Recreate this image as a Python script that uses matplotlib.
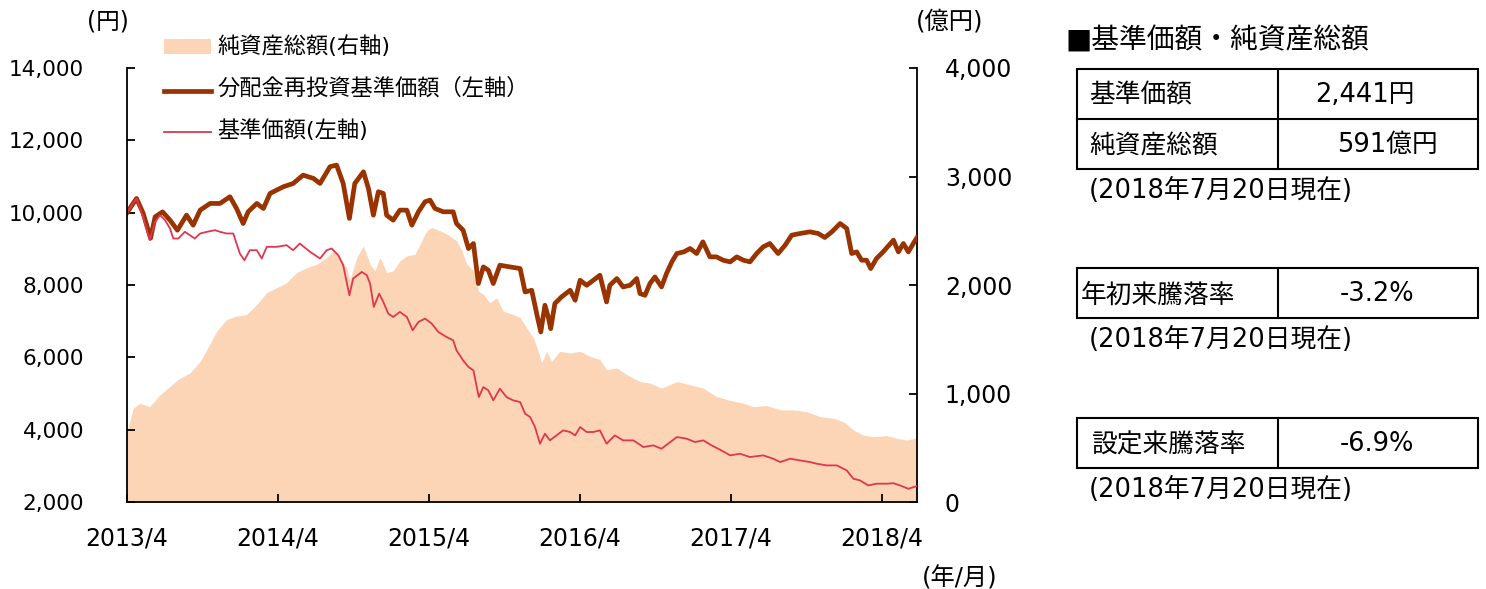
import matplotlib
matplotlib.use('Agg')
import matplotlib.pyplot as plt
import pandas as pd
from matplotlib.patches import Rectangle
from matplotlib.lines import Line2D
from matplotlib.ticker import FuncFormatter, FixedLocator

plt.rcParams['font.family'] = ['DejaVu Sans', 'Noto Sans CJK JP']

# ---------------- data ----------------
reinv_dates = [
    "2013-04-26", "2013-05-19", "2013-06-04", "2013-06-22", "2013-07-03", "2013-07-21", "2013-08-08",
    "2013-08-26", "2013-09-17", "2013-10-03", "2013-10-20", "2013-11-13", "2013-12-07", "2013-12-31",
    "2014-01-16", "2014-02-01", "2014-02-13", "2014-03-06", "2014-03-22", "2014-04-07", "2014-05-09",
    "2014-06-02", "2014-06-26", "2014-07-21", "2014-08-06", "2014-08-30", "2014-09-15", "2014-10-01",
    "2014-10-16", "2014-10-29", "2014-11-19", "2014-12-01", "2014-12-13", "2014-12-25", "2015-01-06",
    "2015-01-14", "2015-01-30", "2015-02-15", "2015-03-04", "2015-03-16", "2015-04-01", "2015-04-17",
    "2015-04-29", "2015-05-11", "2015-05-31", "2015-06-24", "2015-07-02", "2015-07-18", "2015-07-31",
    "2015-08-12", "2015-08-24", "2015-09-05", "2015-09-17", "2015-09-29", "2015-10-15", "2015-11-08",
    "2015-12-03", "2015-12-15", "2015-12-31", "2016-01-12", "2016-01-22", "2016-02-01", "2016-02-09",
    "2016-02-15", "2016-02-25", "2016-03-12", "2016-04-02", "2016-04-14", "2016-04-26", "2016-05-12",
    "2016-05-28", "2016-06-13", "2016-06-29", "2016-07-07", "2016-07-24", "2016-08-08", "2016-08-25",
    "2016-09-10", "2016-09-18", "2016-09-30", "2016-10-12", "2016-10-24", "2016-11-09", "2016-11-21",
    "2016-12-04", "2016-12-16", "2017-01-02", "2017-01-17", "2017-02-02", "2017-02-17", "2017-03-06",
    "2017-03-22", "2017-04-07", "2017-04-24", "2017-05-10", "2017-05-26", "2017-06-11", "2017-06-27",
    "2017-07-13", "2017-07-29", "2017-08-18", "2017-09-04", "2017-09-20", "2017-10-10", "2017-11-03",
    "2017-11-23", "2017-12-09", "2017-12-26", "2018-01-15", "2018-01-31", "2018-02-12", "2018-02-24",
    "2018-03-08", "2018-03-20", "2018-03-30", "2018-04-13", "2018-04-29", "2018-05-24", "2018-06-05",
    "2018-06-17", "2018-06-29", "2018-07-11", "2018-07-20"]
reinv_values = [
    10000, 10393, 9986, 9294, 9884, 10022, 9793,
    9516, 9931, 9654, 10070, 10255, 10255, 10440,
    10116, 9700, 10024, 10255, 10116, 10532, 10716,
    10808, 11038, 10947, 10808, 11270, 11315, 10808,
    9840, 10808, 11130, 10670, 9931, 10578, 10532,
    9931, 9793, 10070, 10070, 9654, 10024, 10301,
    10347, 10116, 10024, 10024, 9700, 9516, 9009,
    9147, 8040, 8501, 8410, 8040, 8547, 8501,
    8455, 7808, 7854, 7210, 6701, 7440, 7117,
    6793, 7487, 7670, 7855, 7578, 8131, 7993,
    8131, 8270, 7532, 7993, 8178, 7947, 7993,
    8178, 7762, 7716, 8040, 8224, 7947, 8317,
    8639, 8870, 8916, 9009, 8870, 9193, 8778,
    8778, 8686, 8639, 8778, 8686, 8640, 8870,
    9055, 9147, 8870, 9101, 9378, 9424, 9470,
    9424, 9313, 9470, 9700, 9562, 8870, 8916,
    8686, 8686, 8455, 8732, 8916, 9240, 8916,
    9147, 8916, 9147, 9310]

nav_dates = [
    "2013-04-26", "2013-05-19", "2013-06-04", "2013-06-20", "2013-07-03", "2013-07-15", "2013-07-27",
    "2013-08-08", "2013-08-16", "2013-08-28", "2013-09-13", "2013-09-25", "2013-10-07", "2013-10-20",
    "2013-11-05", "2013-11-25", "2013-12-07", "2013-12-23", "2014-01-08", "2014-01-16", "2014-01-24",
    "2014-02-04", "2014-02-17", "2014-03-06", "2014-03-18", "2014-03-30", "2014-04-23", "2014-05-17",
    "2014-06-02", "2014-06-18", "2014-07-13", "2014-08-06", "2014-08-22", "2014-09-03", "2014-09-19",
    "2014-10-01", "2014-10-16", "2014-10-25", "2014-11-15", "2014-11-27", "2014-12-05", "2014-12-14",
    "2014-12-27", "2015-01-06", "2015-01-18", "2015-01-30", "2015-02-15", "2015-03-04", "2015-03-18",
    "2015-04-01", "2015-04-17", "2015-05-03", "2015-05-19", "2015-06-08", "2015-06-24", "2015-07-02",
    "2015-07-18", "2015-07-31", "2015-08-12", "2015-08-25", "2015-09-05", "2015-09-17", "2015-09-29",
    "2015-10-15", "2015-10-31", "2015-11-16", "2015-12-03", "2015-12-15", "2015-12-27", "2016-01-08",
    "2016-01-20", "2016-02-01", "2016-02-13", "2016-02-29", "2016-03-16", "2016-04-02", "2016-04-14",
    "2016-04-26", "2016-05-12", "2016-05-28", "2016-06-13", "2016-06-29", "2016-07-19", "2016-08-08",
    "2016-09-02", "2016-09-26", "2016-10-20", "2016-11-09", "2016-11-25", "2016-12-16", "2017-01-09",
    "2017-01-29", "2017-02-18", "2017-03-10", "2017-03-30", "2017-04-24", "2017-05-18", "2017-06-11",
    "2017-07-13", "2017-08-06", "2017-08-23", "2017-09-16", "2017-10-10", "2017-11-03", "2017-11-19",
    "2017-12-14", "2018-01-07", "2018-01-31", "2018-02-16", "2018-03-04", "2018-03-24", "2018-04-13",
    "2018-05-08", "2018-05-24", "2018-06-09", "2018-06-29", "2018-07-20"]
nav_values = [
    10000, 10393, 9884, 9240, 9746, 9931, 9793,
    9562, 9285, 9285, 9470, 9378, 9285, 9424,
    9470, 9516, 9470, 9424, 9424, 9147, 8870,
    8686, 8962, 8962, 8732, 9055, 9055, 9101,
    8962, 9147, 8916, 8732, 8962, 9009, 8824,
    8547, 7717, 8178, 8362, 8270, 8040, 7394,
    7763, 7532, 7210, 7117, 7255, 7117, 6748,
    6979, 7071, 6933, 6701, 6563, 6471, 6194,
    5917, 5732, 5640, 4902, 5178, 5087, 4810,
    5134, 4902, 4810, 4764, 4442, 4349, 4072,
    3612, 3889, 3704, 3842, 3980, 3935, 3842,
    4072, 3935, 3935, 3980, 3612, 3842, 3704,
    3704, 3520, 3566, 3473, 3612, 3796, 3750,
    3658, 3704, 3566, 3450, 3290, 3335, 3243,
    3290, 3197, 3105, 3197, 3150, 3105, 3059,
    3012, 3012, 2874, 2644, 2598, 2458, 2506,
    2506, 2520, 2458, 2366, 2441]

aum_dates = [
    "2013-04-26", "2013-05-11", "2013-05-27", "2013-06-20", "2013-07-15", "2013-08-08", "2013-09-01",
    "2013-09-25", "2013-10-20", "2013-11-05", "2013-11-29", "2013-12-23", "2014-01-16", "2014-02-09",
    "2014-03-06", "2014-03-30", "2014-04-23", "2014-05-17", "2014-06-10", "2014-07-05", "2014-07-29",
    "2014-08-22", "2014-09-07", "2014-09-23", "2014-10-09", "2014-10-17", "2014-11-03", "2014-11-19",
    "2014-12-05", "2014-12-17", "2014-12-29", "2015-01-14", "2015-01-30", "2015-02-15", "2015-03-04",
    "2015-03-24", "2015-04-05", "2015-04-21", "2015-05-03", "2015-05-23", "2015-06-16", "2015-07-02",
    "2015-07-15", "2015-07-27", "2015-08-12", "2015-08-24", "2015-09-05", "2015-09-21", "2015-10-07",
    "2015-10-23", "2015-11-16", "2015-12-03", "2015-12-19", "2016-01-04", "2016-01-16", "2016-01-24",
    "2016-02-05", "2016-02-17", "2016-03-08", "2016-04-02", "2016-04-26", "2016-05-20", "2016-06-13",
    "2016-06-29", "2016-07-24", "2016-08-17", "2016-09-18", "2016-10-12", "2016-11-09", "2016-12-16",
    "2017-01-17", "2017-02-18", "2017-03-22", "2017-04-19", "2017-05-26", "2017-06-19", "2017-07-21",
    "2017-08-23", "2017-09-24", "2017-10-26", "2017-11-27", "2017-12-29", "2018-01-23", "2018-02-16",
    "2018-03-12", "2018-04-05", "2018-05-08", "2018-06-01", "2018-06-25", "2018-07-20"]
aum_values = [
    640, 864, 910, 879, 988, 1065, 1141,
    1188, 1296, 1404, 1574, 1682, 1713, 1728,
    1821, 1929, 1975, 2021, 2114, 2160, 2191,
    2253, 2315, 2253, 2160, 2052, 2253, 2361,
    2191, 2130, 2253, 2114, 2130, 2222, 2268,
    2284, 2377, 2500, 2531, 2500, 2454, 2407,
    2315, 2191, 2130, 1944, 1914, 1836, 1882,
    1759, 1728, 1700, 1604, 1512, 1389, 1280,
    1389, 1296, 1389, 1373, 1389, 1342, 1312,
    1219, 1235, 1173, 1111, 1096, 1049, 1111,
    1080, 1049, 972, 941, 910, 879, 889,
    849, 849, 833, 787, 772, 741, 664,
    617, 602, 612, 586, 571, 591]

x_start = "2013-04-26"
x_end = "2018-07-20"
x_tick_dates = ["2013-04-26", "2014-04-26", "2015-04-26", "2016-04-26", "2017-04-26", "2018-04-26"]
x_tick_labels = ["2013/4", "2014/4", "2015/4", "2016/4", "2017/4", "2018/4"]
left_ticks = [2000, 4000, 6000, 8000, 10000, 12000, 14000]
right_ticks = [0, 1000, 2000, 3000, 4000]

legend_labels = ["純資産総額(右軸)", "分配金再投資基準価額（左軸）", "基準価額(左軸)"]

table_title = "■基準価額・純資産総額"
table1_rows = [("基準価額", "2,441円"), ("純資産総額", "591億円")]
table2_row = ("年初来騰落率", "-3.2%")
table3_row = ("設定来騰落率", "-6.9%")
as_of = "(2018年7月20日現在)"

# ---------------- styling ----------------
W, H = 1486, 589
C_FILL = '#FBD5B5'
C_REINV = '#993300'
C_NAV = '#E0374F'

fig = plt.figure(figsize=(W / 100, H / 100), dpi=100)


def fx(px):
    return px / W


def fy(py):
    return 1 - py / H


ax = fig.add_axes([fx(127), fy(502), (917 - 127) / W, (502 - 68) / H])
ax2 = ax.twinx()
ax.set_zorder(ax2.get_zorder() + 1)
ax.patch.set_visible(False)

aum_d = pd.to_datetime(aum_dates)
reinv_d = pd.to_datetime(reinv_dates)
nav_d = pd.to_datetime(nav_dates)

ax2.fill_between(aum_d, aum_values, 0, color=C_FILL, lw=0)
ax.plot(reinv_d, reinv_values, color=C_REINV, lw=3.4, solid_joinstyle='round')
ax.plot(nav_d, nav_values, color=C_NAV, lw=1.3)

ax.set_xlim(pd.Timestamp(x_start), pd.Timestamp(x_end))
ax.set_ylim(2000, 14000)
ax2.set_ylim(0, 4000)

ax.set_xticks(pd.to_datetime(x_tick_dates))
ax.set_xticklabels(x_tick_labels)
ax.yaxis.set_major_locator(FixedLocator(left_ticks))
ax2.yaxis.set_major_locator(FixedLocator(right_ticks))
fmt = FuncFormatter(lambda v, p: f"{int(v):,}")
ax.yaxis.set_major_formatter(fmt)
ax2.yaxis.set_major_formatter(fmt)

for a in (ax, ax2):
    a.spines['top'].set_visible(False)
    for s in a.spines.values():
        s.set_linewidth(1.3)
ax.spines['right'].set_visible(False)
ax2.spines['left'].set_visible(False)
ax2.spines['bottom'].set_visible(False)

ax.tick_params(axis='y', direction='in', length=6, width=1.3, pad=31, labelsize=15.5)
ax.tick_params(axis='x', direction='in', length=6, width=1.3, pad=18, labelsize=17)
ax2.tick_params(axis='y', direction='in', length=6, width=1.3, pad=20, labelsize=17)

# unit labels
fig.text(fx(87), fy(22), "(円)", fontsize=17, ha='left', va='center')
fig.text(fx(916), fy(22), "(億円)", fontsize=17.5, ha='left', va='center')
fig.text(fx(922), fy(578), "(年/月)", fontsize=17.5, ha='left', va='center')

# legend
fig.add_artist(Rectangle((fx(164), fy(54)), 47 / W, 15 / H, transform=fig.transFigure,
                         facecolor=C_FILL, edgecolor='none'))
fig.add_artist(Line2D([fx(164), fx(211)], [fy(91), fy(91)], transform=fig.transFigure,
                      color=C_REINV, lw=3.4))
fig.add_artist(Line2D([fx(164), fx(211)], [fy(132), fy(132)], transform=fig.transFigure,
                      color=C_NAV, lw=1.3))
for ypx, lab in zip([46, 88, 130], legend_labels):
    fig.text(fx(217), fy(ypx), lab, fontsize=16, ha='left', va='center')

# tables
LW = 1.5


def box(x0, y0, x1, y1):
    fig.add_artist(Rectangle((fx(x0), fy(y1)), (x1 - x0) / W, (y1 - y0) / H,
                             transform=fig.transFigure, facecolor='none',
                             edgecolor='black', lw=LW))


def hline(x0, x1, y):
    fig.add_artist(Line2D([fx(x0), fx(x1)], [fy(y), fy(y)], transform=fig.transFigure,
                          color='black', lw=LW))


def vline(x, y0, y1):
    fig.add_artist(Line2D([fx(x), fx(x)], [fy(y0), fy(y1)], transform=fig.transFigure,
                          color='black', lw=LW))


TS = 18.5
fig.text(fx(1066), fy(41), table_title, fontsize=20, ha='left', va='center')
box(1077, 69, 1478, 169)
hline(1077, 1478, 119)
vline(1278, 69, 169)
fig.text(fx(1089), fy(96), table1_rows[0][0], fontsize=TS, ha='left', va='center')
fig.text(fx(1365), fy(95), table1_rows[0][1], fontsize=TS, ha='center', va='center')
fig.text(fx(1089), fy(146), table1_rows[1][0], fontsize=TS, ha='left', va='center')
fig.text(fx(1387), fy(145), table1_rows[1][1], fontsize=TS, ha='center', va='center')
fig.text(fx(1089), fy(191), as_of, fontsize=TS, ha='left', va='center')

box(1077, 268, 1478, 318)
vline(1278, 268, 318)
fig.text(fx(1081), fy(296), table2_row[0], fontsize=TS, ha='left', va='center')
fig.text(fx(1377), fy(294), table2_row[1], fontsize=TS, ha='center', va='center')
fig.text(fx(1089), fy(340), as_of, fontsize=TS, ha='left', va='center')

box(1077, 418, 1478, 468)
vline(1278, 418, 468)
fig.text(fx(1091), fy(446), table3_row[0], fontsize=TS, ha='left', va='center')
fig.text(fx(1377), fy(444), table3_row[1], fontsize=TS, ha='center', va='center')
fig.text(fx(1089), fy(490), as_of, fontsize=TS, ha='left', va='center')

fig.savefig("out.png", dpi=100)
